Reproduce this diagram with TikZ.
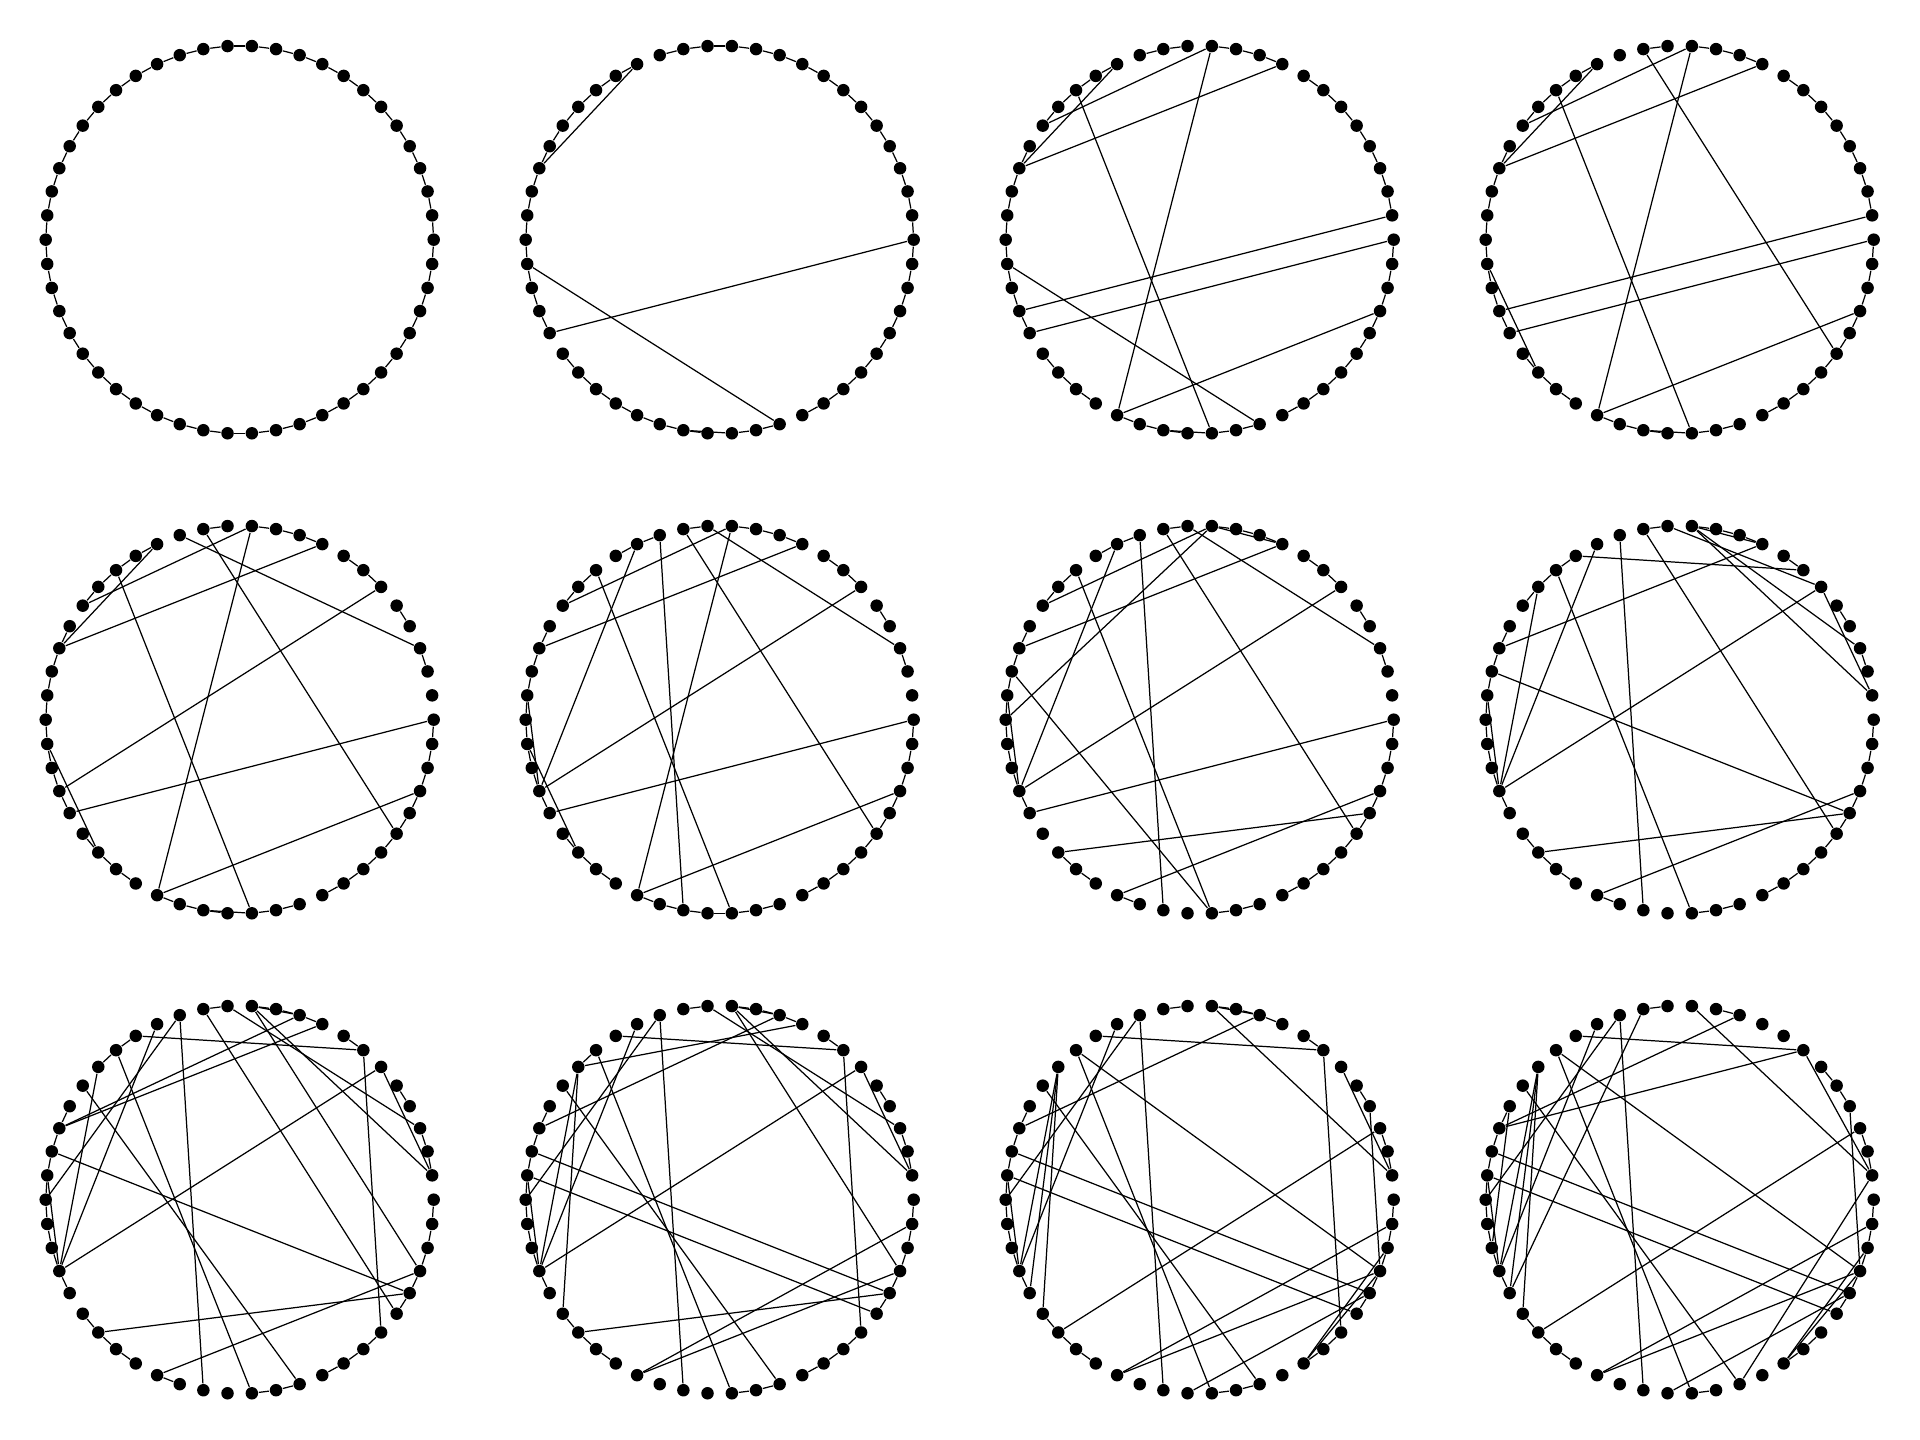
\documentclass[tikz,border=0pt]{standalone}
\newcommand\wspanel[5]{% #1 id, #2 cx, #3 cy (px from top), #4 ring gaps, #5 extra edges
  \foreach \i in {0,...,49}{
    \pgfmathsetmacro\px{#2+194*cos(7.2*\i)}
    \pgfmathsetmacro\py{1440-#3+194*sin(7.2*\i)}
    \node[dot] (p#1n\i) at (\px,\py) {};
  }
  \foreach \g in {#4}{\expandafter\gdef\csname gap#1-\g\endcsname{}}
  \foreach \i in {0,...,49}{
    \pgfmathtruncatemacro\j{mod(\i+1,50)}
    \ifcsname gap#1-\i\endcsname\else
      \draw[edge] (p#1n\i) -- (p#1n\j);
    \fi
  }
  \foreach \a/\b in {#5}{\draw[edge] (p#1n\a) -- (p#1n\b);}
}
\begin{document}
\begin{tikzpicture}[x=0.01cm,y=0.01cm,
  dot/.style={circle,fill=black,draw=none,inner sep=0pt,minimum size=0.125cm},
  edge/.style={draw=black,line width=0.35pt}]
\useasboundingbox[fill=white] (0,0) rectangle (1920,1440);
% row 1
\wspanel{1}{239.7}{239.7}{0}{0/1}
\wspanel{2}{719.7}{239.7}{15,29,40,37}{16/22,29/0,40/26,36/38}
\wspanel{3}{1199.7}{239.7}{0,8,12,15,20,29,33,37,40}{16/22,12/34,12/20,9/22,1/28,0/29,47/34,40/26,38/18,36/38}
\wspanel{4}{1679.7}{239.7}{0,8,12,14,15,20,29,33,37,40}{16/22,12/34,12/20,9/22,1/28,0/29,47/34,26/31,38/18,36/38,14/45}
% row 2
\wspanel{5}{239.7}{719.7}{0,1,3,5,8,12,14,15,20,29,33,37,40}{16/22,12/34,12/20,9/22,28/6,0/29,47/34,26/31,38/18,36/38,14/45,15/3}
\wspanel{6}{719.7}{719.7}{0,1,3,5,8,12,14,17,20,29,33,40}{20/12,12/34,13/3,14/45,15/36,16/28,9/22,18/38,6/28,0/29,26/31,47/34,24/28}
\wspanel{7}{1199.7}{719.7}{0,1,3,5,8,12,14,17,20,29,30,33,35,36,37,40}{20/12,12/25,12/9,13/3,14/45,15/36,16/28,9/22,18/38,6/28,23/38,0/29,46/31,47/34,24/28}
\wspanel{8}{1679.7}{719.7}{0,1,3,5,6,8,12,14,15,16,20,29,33,35,36,37,40}{17/7,14/45,13/6,12/3,12/1,6/1,12/9,15/36,16/28,19/28,6/28,9/22,18/38,23/46,46/31,47/34,24/28}
% row 3
\wspanel{9}{239.7}{1199.7}{0,3,5,6,8,12,14,15,16,19,20,29,33,35,36,37,40,44}{17/7,7/44,14/45,13/3,12/1,6/1,12/10,10/22,9/22,15/36,15/25,16/28,19/28,20/40,18/38,23/46,6/28,31/46,34/47,12/47,24/28}
\wspanel{10}{719.7}{1199.7}{0,3,5,6,8,12,14,15,16,17,19,20,29,33,34,35,36,37,40,44}{17/7,7/44,19/9,10/22,12/1,12/47,12/10,13/3,6/1,15/36,15/25,16/28,19/28,19/30,20/40,18/38,23/46,24/45,6/28,31/46,34/47,34/49,24/28}
\wspanel{11}{1199.7}{1199.7}{0,3,5,6,8,12,14,15,16,17,18,19,20,29,33,34,35,36,37,40,41,44}{17/7,7/44,10/22,12/1,12/10,15/36,15/25,16/28,18/38,18/47,19/28,19/29,19/30,20/40,23/46,24/45,31/3,34/47,34/49,37/46,42/48,42/47,4/47,6/1,24/28}
\wspanel{12}{1679.7}{1199.7}{0,3,6,7,8,9,11,12,14,15,16,17,18,19,20,29,33,34,35,36,37,39,40,41,44}{14/29,15/36,15/25,16/28,17/7,18/38,18/47,19/28,19/29,19/30,20/40,21/27,22/10,22/7,23/46,24/45,12/1,7/1,4/47,3/31,1/40,49/34,47/34,46/37,48/42,47/42,24/28}
\end{tikzpicture}
\end{document}
